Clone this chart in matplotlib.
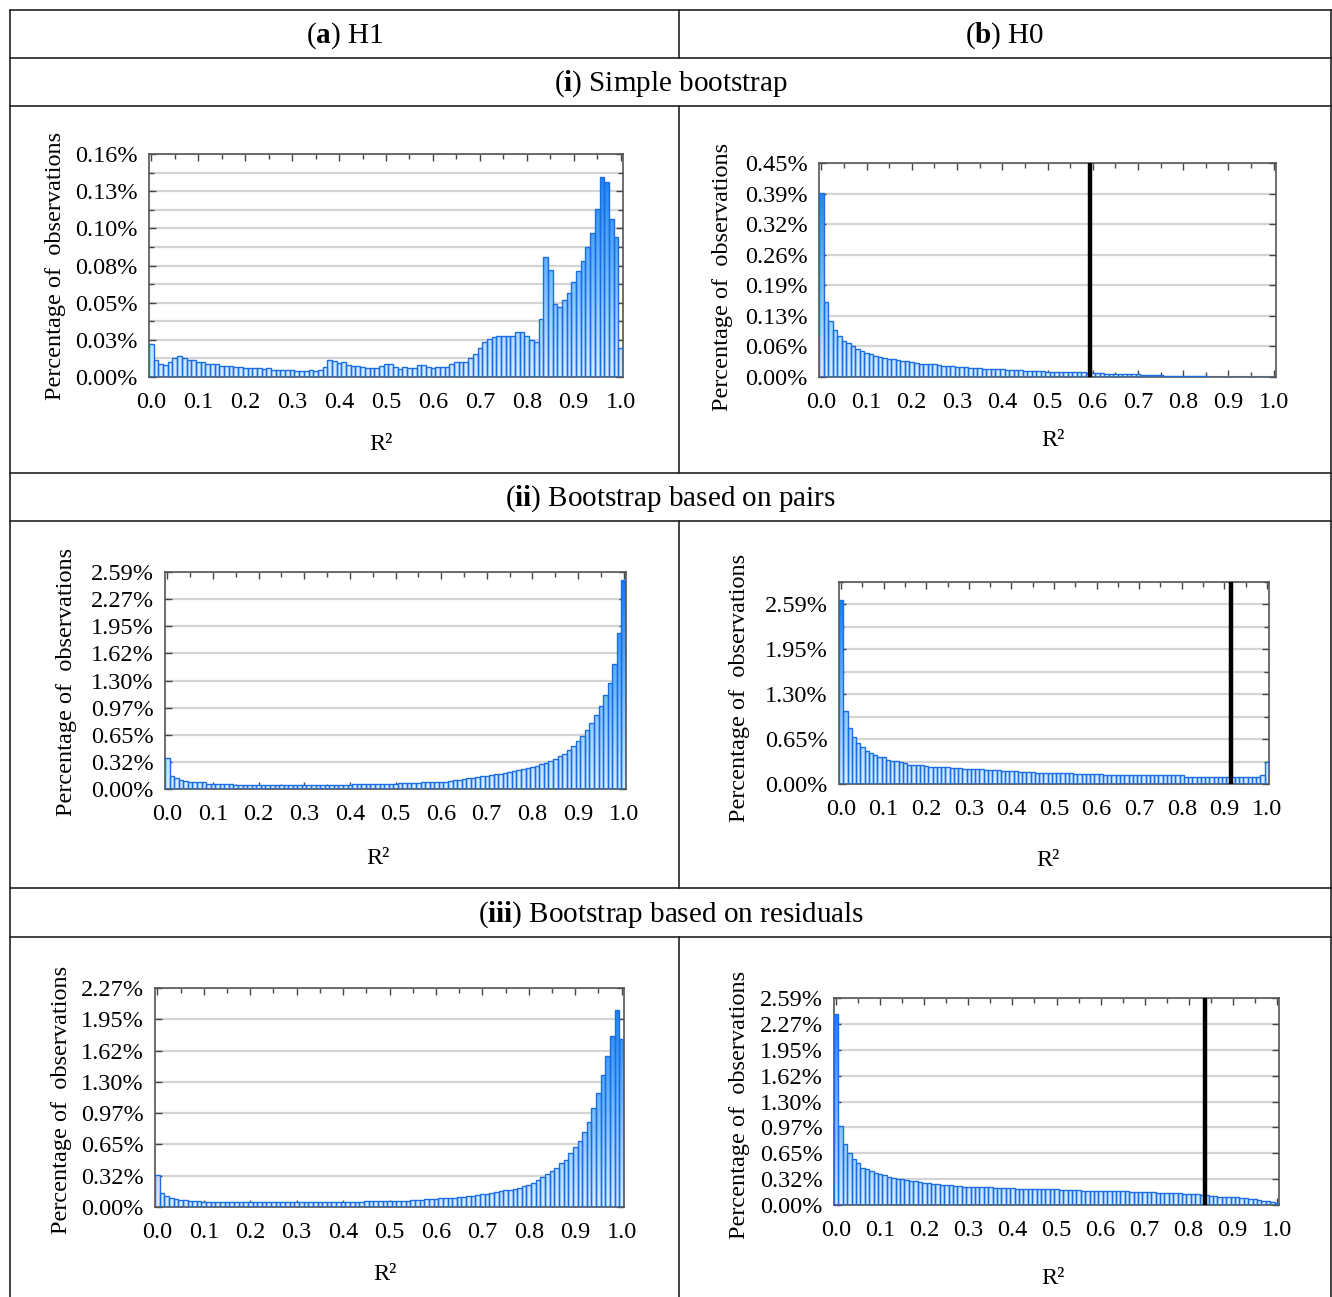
import numpy as np
import matplotlib
matplotlib.use('Agg')
import matplotlib.pyplot as plt
from matplotlib.colors import LinearSegmentedColormap
from matplotlib.path import Path
from matplotlib.patches import PathPatch
from matplotlib.lines import Line2D

plt.rcParams['font.family'] = ['Liberation Serif', 'DejaVu Serif']
plt.rcParams['mathtext.fontset'] = 'custom'
plt.rcParams['mathtext.rm'] = 'Liberation Serif'
plt.rcParams['mathtext.bf'] = 'Liberation Serif:bold'
plt.rcParams['mathtext.it'] = 'Liberation Serif:italic'

# ---------------- data (percent of observations per R^2 bin of width 0.01) ----------------
r2_centers = np.arange(101) / 100.0
xtick_labels = ['0.0', '0.1', '0.2', '0.3', '0.4', '0.5', '0.6', '0.7', '0.8', '0.9', '1.0']

h1_simple = [0.0229, 0.0121, 0.0093, 0.0084, 0.0103, 0.0131, 0.0145, 0.0131, 0.0121, 0.0117,
             0.0107, 0.0103, 0.0093, 0.0093, 0.0093, 0.0075, 0.0075, 0.0075, 0.0070, 0.0070,
             0.0061, 0.0061, 0.0061, 0.0061, 0.0056, 0.0061, 0.0051, 0.0047, 0.0047, 0.0047,
             0.0047, 0.0042, 0.0042, 0.0042, 0.0047, 0.0042, 0.0051, 0.0070, 0.0117, 0.0112,
             0.0098, 0.0103, 0.0084, 0.0075, 0.0075, 0.0070, 0.0061, 0.0061, 0.0061, 0.0075,
             0.0093, 0.0089, 0.0070, 0.0056, 0.0070, 0.0065, 0.0061, 0.0084, 0.0084, 0.0070,
             0.0061, 0.0070, 0.0070, 0.0070, 0.0093, 0.0103, 0.0107, 0.0107, 0.0131, 0.0163,
             0.0201, 0.0243, 0.0266, 0.0280, 0.0290, 0.0290, 0.0290, 0.0290, 0.0318, 0.0313,
             0.0290, 0.0262, 0.0243, 0.0406, 0.0836, 0.0752, 0.0514, 0.0490, 0.0537, 0.0588,
             0.0668, 0.0743, 0.0808, 0.0911, 0.1004, 0.1172, 0.1401, 0.1364, 0.1107, 0.0976,
             0.0206]

h0_simple = [0.387, 0.158, 0.118, 0.098, 0.087, 0.076, 0.072, 0.065, 0.059, 0.055,
             0.051, 0.049, 0.045, 0.042, 0.041, 0.038, 0.038, 0.035, 0.034, 0.034,
             0.031, 0.030, 0.028, 0.028, 0.027, 0.027, 0.025, 0.024, 0.024, 0.0225,
             0.021, 0.021, 0.021, 0.0197, 0.0197, 0.018, 0.0175, 0.0175, 0.017, 0.0162,
             0.0162, 0.0155, 0.014, 0.014, 0.014, 0.0127, 0.0127, 0.0127, 0.0127, 0.0127,
             0.011, 0.011, 0.011, 0.011, 0.011, 0.0098, 0.0098, 0.0098, 0.0098, 0.0084,
             0.0084, 0.0084, 0.0084, 0.007, 0.007, 0.007, 0.007, 0.0056, 0.0056, 0.0056,
             0.0056, 0.0042, 0.0042, 0.0042, 0.0042, 0.0042, 0.0028, 0.0028, 0.0028, 0.0028,
             0.0028, 0.0028, 0.0028, 0.0028, 0.0028, 0.0028, 0, 0, 0, 0,
             0, 0, 0, 0, 0, 0, 0, 0, 0, 0,
             0]

h1_pairs = [0.376, 0.152, 0.128, 0.112, 0.096, 0.088, 0.088, 0.080, 0.080, 0.064,
            0.064, 0.064, 0.064, 0.056, 0.056, 0.052, 0.052, 0.052, 0.052, 0.052,
            0.052, 0.048, 0.048, 0.048, 0.048, 0.048, 0.048, 0.048, 0.048, 0.048,
            0.048, 0.048, 0.048, 0.048, 0.048, 0.048, 0.048, 0.048, 0.048, 0.048,
            0.048, 0.056, 0.056, 0.056, 0.056, 0.056, 0.064, 0.064, 0.064, 0.064,
            0.064, 0.072, 0.072, 0.072, 0.072, 0.072, 0.080, 0.080, 0.080, 0.080,
            0.088, 0.088, 0.096, 0.104, 0.112, 0.120, 0.128, 0.136, 0.144, 0.152,
            0.160, 0.168, 0.176, 0.184, 0.192, 0.208, 0.216, 0.224, 0.240, 0.248,
            0.264, 0.280, 0.296, 0.312, 0.336, 0.360, 0.392, 0.424, 0.464, 0.512,
            0.568, 0.632, 0.704, 0.784, 0.880, 0.992, 1.120, 1.272, 1.496, 1.864,
            2.496]

h0_pairs = [2.650, 1.054, 0.805, 0.681, 0.594, 0.537, 0.479, 0.450, 0.422, 0.393,
            0.383, 0.345, 0.335, 0.326, 0.316, 0.297, 0.278, 0.278, 0.268, 0.268,
            0.259, 0.249, 0.240, 0.240, 0.240, 0.240, 0.230, 0.230, 0.230, 0.211,
            0.211, 0.211, 0.211, 0.211, 0.201, 0.201, 0.201, 0.201, 0.182, 0.182,
            0.182, 0.182, 0.173, 0.173, 0.173, 0.173, 0.163, 0.163, 0.163, 0.163,
            0.153, 0.153, 0.153, 0.153, 0.153, 0.144, 0.144, 0.144, 0.144, 0.144,
            0.144, 0.144, 0.134, 0.134, 0.134, 0.134, 0.134, 0.134, 0.134, 0.134,
            0.134, 0.125, 0.125, 0.125, 0.125, 0.125, 0.125, 0.125, 0.125, 0.125,
            0.125, 0.105, 0.105, 0.105, 0.105, 0.105, 0.105, 0.105, 0.105, 0.105,
            0.105, 0.096, 0.096, 0.096, 0.096, 0.096, 0.096, 0.096, 0.105, 0.125,
            0.316]

h1_resid = [0.336, 0.146, 0.114, 0.090, 0.080, 0.076, 0.069, 0.066, 0.066, 0.059,
            0.055, 0.055, 0.055, 0.055, 0.055, 0.055, 0.055, 0.055, 0.055, 0.055,
            0.055, 0.055, 0.055, 0.055, 0.055, 0.055, 0.055, 0.055, 0.055, 0.055,
            0.055, 0.055, 0.055, 0.055, 0.055, 0.055, 0.055, 0.055, 0.055, 0.055,
            0.055, 0.055, 0.055, 0.055, 0.055, 0.062, 0.062, 0.062, 0.062, 0.062,
            0.067, 0.067, 0.067, 0.067, 0.067, 0.069, 0.076, 0.076, 0.080, 0.083,
            0.083, 0.090, 0.090, 0.097, 0.097, 0.104, 0.108, 0.111, 0.118, 0.125,
            0.132, 0.139, 0.146, 0.156, 0.163, 0.173, 0.180, 0.190, 0.201, 0.215,
            0.225, 0.250, 0.277, 0.312, 0.347, 0.374, 0.409, 0.451, 0.492, 0.555,
            0.617, 0.686, 0.780, 0.884, 1.022, 1.178, 1.369, 1.560, 1.768, 2.045,
            1.740]

h0_resid = [2.397, 0.992, 0.766, 0.649, 0.573, 0.523, 0.469, 0.448, 0.423, 0.397,
            0.385, 0.372, 0.351, 0.339, 0.331, 0.322, 0.314, 0.305, 0.297, 0.289,
            0.280, 0.272, 0.264, 0.259, 0.255, 0.251, 0.247, 0.238, 0.238, 0.230,
            0.230, 0.230, 0.222, 0.222, 0.222, 0.222, 0.213, 0.213, 0.213, 0.213,
            0.213, 0.205, 0.205, 0.205, 0.205, 0.205, 0.197, 0.197, 0.197, 0.197,
            0.197, 0.188, 0.188, 0.188, 0.188, 0.188, 0.180, 0.180, 0.180, 0.180,
            0.180, 0.172, 0.172, 0.172, 0.172, 0.172, 0.172, 0.163, 0.163, 0.163,
            0.163, 0.163, 0.163, 0.146, 0.146, 0.146, 0.146, 0.146, 0.146, 0.138,
            0.138, 0.138, 0.138, 0.121, 0.121, 0.113, 0.113, 0.105, 0.105, 0.105,
            0.100, 0.096, 0.088, 0.084, 0.079, 0.071, 0.063, 0.054, 0.046, 0.038,
            0.021]

# critical R^2 values (vertical lines) in the H0 panels
crit_simple, crit_pairs, crit_resid = 0.594, 0.915, 0.838

ylab_simple_h1 = ['0.00%', '0.03%', '0.05%', '0.08%', '0.10%', '0.13%', '0.16%']
ylab_simple_h0 = ['0.00%', '0.06%', '0.13%', '0.19%', '0.26%', '0.32%', '0.39%', '0.45%']
ylab_pairs_h1 = ['0.00%', '0.32%', '0.65%', '0.97%', '1.30%', '1.62%', '1.95%', '2.27%', '2.59%']
ylab_pairs_h0 = ['0.00%', '0.65%', '1.30%', '1.95%', '2.59%']
ylab_resid_h1 = ['0.00%', '0.32%', '0.65%', '0.97%', '1.30%', '1.62%', '1.95%', '2.27%']
ylab_resid_h0 = ['0.00%', '0.32%', '0.65%', '0.97%', '1.30%', '1.62%', '1.95%', '2.27%', '2.59%']

col_titles = [('a', 'H1'), ('b', 'H0')]
row_titles = [('i', 'Simple bootstrap'), ('ii', 'Bootstrap based on pairs'),
              ('iii', 'Bootstrap based on residuals')]
ylabel_text = 'Percentage of  observations'
xlabel_text = 'R²'

# ---------------- figure ----------------
W, H = 1332, 1297
fig = plt.figure(figsize=(W / 100, H / 100), dpi=100)
fig.patch.set_facecolor('white')

FS = 17.5
XMIN, XMAX = -0.005, 1.005
cmap = LinearSegmentedColormap.from_list('fill', ['#d9eeff', '#66b5ff', '#0a76f2'])
EDGE = '#1a6de2'


def fx(x):
    return x / W


def fy(y):
    return 1 - y / H


def draw_panel(rect, values, ylabels, label_top, grid_div, ymax, vline=None,
               ylab_pos=None, xlab_pos=None):
    l, t, r, b = rect
    ax = fig.add_axes([fx(l), fy(b), (r - l) / W, (b - t) / H])
    vals = np.asarray(values, dtype=float)
    bars = ax.bar(r2_centers, vals, width=0.01, facecolor='none',
                  edgecolor=EDGE, linewidth=1.0, zorder=3)
    paths = [bb.get_path().transformed(bb.get_patch_transform()) for bb in bars]
    comp = Path.make_compound_path(*paths)
    clip = PathPatch(comp, transform=ax.transData, facecolor='none', edgecolor='none')
    ax.add_patch(clip)
    grad = np.linspace(0, 1, 256).reshape(-1, 1)
    im = ax.imshow(grad, extent=[XMIN, XMAX, 0, ymax], origin='lower', aspect='auto',
                   cmap=cmap, zorder=2, interpolation='bilinear')
    im.set_clip_path(clip)
    if vline is not None:
        ax.axvline(vline, color='black', lw=3.2, zorder=4)
    ax.set_xlim(XMIN, XMAX)
    ax.set_ylim(0, ymax)
    step = label_top / (len(ylabels) - 1)
    ax.set_yticks(np.arange(len(ylabels)) * step, ylabels)
    gstep = step / grid_div
    ng = int(round(ymax / gstep))
    ax.set_yticks(np.arange(ng + 1) * gstep, minor=True)
    ax.set_xticks(np.arange(len(xtick_labels)) / 10.0, xtick_labels)
    ax.set_xticks(np.arange(21) * 0.05, minor=True)
    ax.grid(True, axis='y', which='both', color='#d4d4d4', lw=1.6)
    ax.set_axisbelow(True)
    ax.tick_params(which='both', direction='in', top=True, right=True,
                   colors='#444444', labelcolor='black', labelsize=FS)
    ax.tick_params(which='major', length=5, width=1)
    ax.tick_params(which='minor', length=3.5, width=1)
    ax.tick_params(axis='y', pad=8)
    ax.tick_params(axis='x', pad=11)
    for sp in ax.spines.values():
        sp.set_color('#555555')
        sp.set_linewidth(1.2)
    fig.text(fx(ylab_pos[0]), fy(ylab_pos[1]), ylabel_text, rotation=90,
             ha='center', va='center', fontsize=FS)
    fig.text(fx(xlab_pos[0]), fy(xlab_pos[1]), xlabel_text,
             ha='center', va='center', fontsize=FS)
    return ax


draw_panel((149, 154, 623, 377), h1_simple, ylab_simple_h1, 0.156, 2, 0.156,
           ylab_pos=(55, 266), xlab_pos=(381, 444))
draw_panel((819, 163, 1276, 377), h0_simple, ylab_simple_h0, 0.45, 1, 0.45, vline=crit_simple,
           ylab_pos=(722, 277), xlab_pos=(1053, 441))
draw_panel((165, 572, 626, 789), h1_pairs, ylab_pairs_h1, 2.594, 1, 2.594,
           ylab_pos=(67, 682), xlab_pos=(378, 858))
draw_panel((839, 582, 1269, 784), h0_pairs, ylab_pairs_h0, 2.59, 2, 2.914, vline=crit_pairs,
           ylab_pos=(740, 688), xlab_pos=(1048, 860))
draw_panel((155, 988, 624, 1207), h1_resid, ylab_resid_h1, 2.27, 1, 2.27,
           ylab_pos=(62, 1100), xlab_pos=(385, 1274))
draw_panel((834, 998, 1279, 1205), h0_resid, ylab_resid_h0, 2.594, 1, 2.594, vline=crit_resid,
           ylab_pos=(740, 1105), xlab_pos=(1053, 1278))

# ---------------- table frame ----------------
LC = '#222222'
LW = 1.2


def hline(y, x0=10, x1=1331):
    fig.add_artist(Line2D([fx(x0), fx(x1)], [fy(y), fy(y)], color=LC, lw=LW))


def vline_px(x, y0, y1):
    fig.add_artist(Line2D([fx(x), fx(x)], [fy(y0), fy(y1)], color=LC, lw=LW))


for y in (10, 58, 106, 473, 521, 888, 937):
    hline(y)
vline_px(10, 10, 1297)
vline_px(1331, 10, 1297)
for y0, y1 in ((10, 58), (106, 473), (521, 888), (937, 1297)):
    vline_px(679, y0, y1)

HFS = 21
for (lab, txt), xc in zip(col_titles, (345, 1005)):
    fig.text(fx(xc), fy(36), '(' + r'$\mathbf{' + lab + '}$' + ') ' + txt,
             ha='center', va='center', fontsize=HFS)
for (lab, txt), yc in zip(row_titles, (84, 499, 915)):
    fig.text(fx(671), fy(yc), '(' + r'$\mathbf{' + lab + '}$' + ') ' + txt,
             ha='center', va='center', fontsize=HFS)

fig.savefig('out.png', dpi=100, facecolor='white')
